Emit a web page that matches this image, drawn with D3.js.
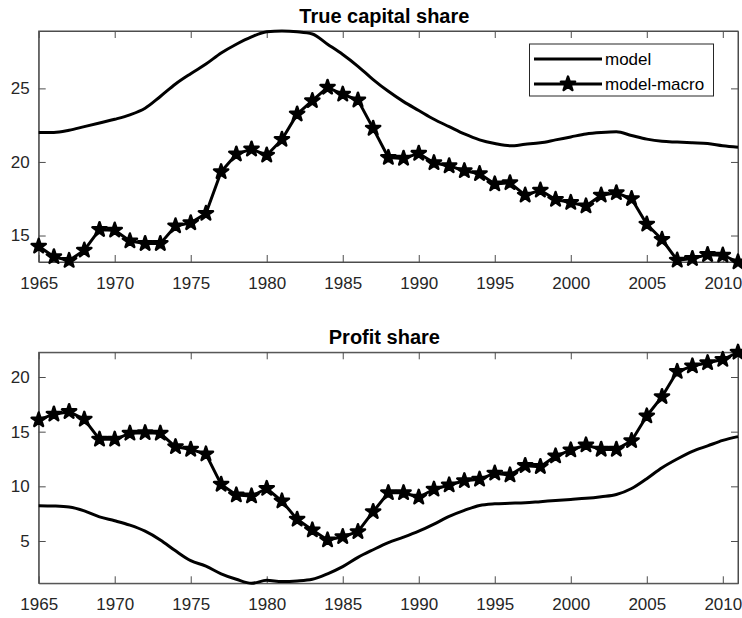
<!DOCTYPE html>
<html lang="en">
<head>
    <meta charset="UTF-8">
    <title>True capital share / Profit share</title>
    <script src="https://d3js.org/d3.v7.min.js"></script>
    <style>
        body { margin: 0; background: #fff; }
        svg { display: block; font-family: Arial, "Liberation Sans", sans-serif; }
        .tick text { fill: #262626; font-size: 17px; }
        .title { fill: #000; font-size: 20px; font-weight: bold; }
    </style>
</head>
<body>
    <script>
        // Data
        const years = [1965, 1966, 1967, 1968, 1969, 1970, 1971, 1972, 1973, 1974,
                       1975, 1976, 1977, 1978, 1979, 1980, 1981, 1982, 1983, 1984,
                       1985, 1986, 1987, 1988, 1989, 1990, 1991, 1992, 1993, 1994,
                       1995, 1996, 1997, 1998, 1999, 2000, 2001, 2002, 2003, 2004,
                       2005, 2006, 2007, 2008, 2009, 2010, 2011];

        const capitalModel = [22.0, 22.0, 22.15, 22.4, 22.65, 22.9, 23.2, 23.65, 24.45, 25.3,
                              26.0, 26.65, 27.4, 28.0, 28.5, 28.85, 28.9, 28.85, 28.7, 28.0,
                              27.3, 26.5, 25.6, 24.8, 24.1, 23.5, 22.9, 22.4, 21.9, 21.5,
                              21.25, 21.1, 21.2, 21.3, 21.5, 21.7, 21.9, 22.0, 22.05, 21.8,
                              21.55, 21.4, 21.35, 21.3, 21.25, 21.1, 21.0];
        const capitalMacro = [14.27, 13.55, 13.3, 14.0, 15.4, 15.36, 14.63, 14.45, 14.45, 15.65,
                              15.86, 16.5, 19.33, 20.53, 20.87, 20.46, 21.53, 23.25, 24.16, 25.07,
                              24.6, 24.2, 22.28, 20.3, 20.24, 20.58, 19.94, 19.73, 19.4, 19.2,
                              18.5, 18.58, 17.74, 18.08, 17.45, 17.24, 17.0, 17.74, 17.9, 17.5,
                              15.77, 14.73, 13.32, 13.43, 13.7, 13.66, 13.2];

        const profitModel = [8.23, 8.2, 8.1, 7.75, 7.2, 6.85, 6.45, 5.9, 5.1, 4.1,
                             3.2, 2.7, 2.0, 1.5, 1.13, 1.4, 1.3, 1.35, 1.5, 2.0,
                             2.65, 3.5, 4.2, 4.85, 5.35, 5.9, 6.55, 7.25, 7.8, 8.25,
                             8.4, 8.45, 8.5, 8.6, 8.7, 8.8, 8.9, 9.05, 9.25, 9.8,
                             10.7, 11.7, 12.5, 13.2, 13.7, 14.2, 14.55];
        const profitMacro = [16.07, 16.6, 16.83, 16.13, 14.3, 14.3, 14.85, 14.9, 14.85, 13.62,
                             13.38, 12.95, 10.18, 9.2, 9.11, 9.8, 8.65, 6.98, 6.0, 5.09,
                             5.39, 5.85, 7.68, 9.41, 9.41, 9.0, 9.73, 10.12, 10.51, 10.64,
                             11.2, 11.03, 11.89, 11.8, 12.77, 13.32, 13.78, 13.38, 13.38, 14.17,
                             16.43, 18.2, 20.5, 21.0, 21.3, 21.6, 22.26];

        const xTicks = [1965, 1970, 1975, 1980, 1985, 1990, 1995, 2000, 2005, 2010];
        const capitalTicks = [15, 20, 25];
        const profitTicks = [5, 10, 15, 20];
        const seriesNames = ["model", "model-macro"];

        const width = 742, height = 618;
        const left = 38.7, right = 738;
        const tickLen = 7;
        const ink = "#262626";

        const svg = d3.select("body").append("svg")
            .attr("width", width)
            .attr("height", height);

        const x = d3.scaleLinear().domain(d3.extent(years)).range([left, right]);
        const star = d3.symbol().type(d3.symbolStar).size(62);

        function panel(title, model, macro, yTicks, top, bottom, titleY, withLegend) {
            const all = model.concat(macro);
            const y = d3.scaleLinear().domain(d3.extent(all)).range([bottom, top]);
            const g = svg.append("g");

            // axes, ticks pointing inward on all four sides
            g.append("g")
                .attr("transform", `translate(0,${bottom})`)
                .call(d3.axisBottom(x).tickValues(xTicks).tickFormat(d3.format("d"))
                    .tickSizeInner(-tickLen).tickSizeOuter(0).tickPadding(15));
            g.append("g")
                .attr("transform", `translate(0,${top})`)
                .call(d3.axisTop(x).tickValues(xTicks).tickFormat("")
                    .tickSizeInner(-tickLen).tickSizeOuter(0));
            g.append("g")
                .attr("transform", `translate(${left},0)`)
                .call(d3.axisLeft(y).tickValues(yTicks)
                    .tickSizeInner(-tickLen).tickSizeOuter(0).tickPadding(9));
            g.append("g")
                .attr("transform", `translate(${right},0)`)
                .call(d3.axisRight(y).tickValues(yTicks).tickFormat("")
                    .tickSizeInner(-tickLen).tickSizeOuter(0));
            g.selectAll(".domain, .tick line").attr("stroke", "#4d4d4d");

            g.append("rect")
                .attr("x", left).attr("y", top)
                .attr("width", right - left).attr("height", bottom - top)
                .attr("fill", "none").attr("stroke", "#4d4d4d");

            g.append("text")
                .attr("class", "title")
                .attr("x", (left + right) / 2 - 4)
                .attr("y", titleY)
                .attr("text-anchor", "middle")
                .text(title);

            const line = d3.line()
                .x((d, i) => x(years[i]))
                .y(d => y(d));

            g.append("path")
                .datum(model)
                .attr("fill", "none")
                .attr("stroke", "#000")
                .attr("stroke-width", 3)
                .attr("stroke-linejoin", "round")
                .attr("d", line.curve(d3.curveMonotoneX));

            g.append("path")
                .datum(macro)
                .attr("fill", "none")
                .attr("stroke", "#000")
                .attr("stroke-width", 3)
                .attr("stroke-linejoin", "round")
                .attr("d", line.curve(d3.curveLinear));

            g.selectAll(".star")
                .data(macro)
                .enter()
                .append("path")
                .attr("class", "star")
                .attr("transform", (d, i) => `translate(${x(years[i])},${y(d)})`)
                .attr("d", star)
                .attr("fill", "#000")
                .attr("stroke", "#000")
                .attr("stroke-width", 2.5)
                .attr("stroke-linejoin", "round");

            if (withLegend) {
                const lg = g.append("g");
                lg.append("rect")
                    .attr("x", 529.5).attr("y", 44)
                    .attr("width", 184).attr("height", 52)
                    .attr("fill", "#fff").attr("stroke", ink);
                seriesNames.forEach((name, i) => {
                    const ly = 59 + i * 25;
                    lg.append("line")
                        .attr("x1", 534).attr("x2", 602)
                        .attr("y1", ly).attr("y2", ly)
                        .attr("stroke", "#000").attr("stroke-width", 3);
                    if (i === 1) {
                        lg.append("path")
                            .attr("transform", `translate(568,${ly})`)
                            .attr("d", star)
                            .attr("fill", "#000").attr("stroke", "#000")
                            .attr("stroke-width", 2.5).attr("stroke-linejoin", "round");
                    }
                    lg.append("text")
                        .attr("x", 605).attr("y", ly + 6)
                        .attr("fill", "#000")
                        .style("font-size", "17px")
                        .text(name);
                });
            }
        }

        panel("True capital share", capitalModel, capitalMacro, capitalTicks, 31, 262, 23, true);
        panel("Profit share", profitModel, profitMacro, profitTicks, 352.3, 583.3, 344, false);
    </script>
</body>
</html>
